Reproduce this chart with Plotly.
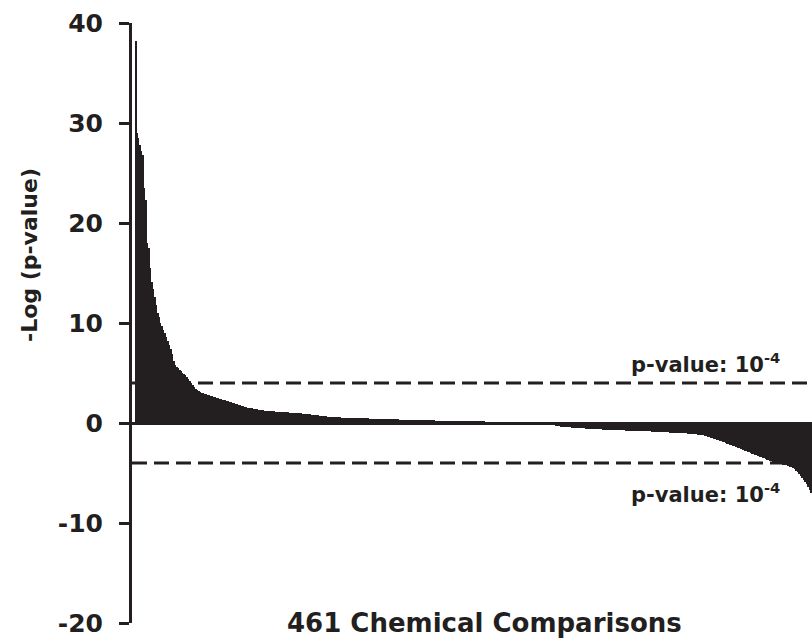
import plotly.graph_objects as go

# -Log(p-value) for 461 chemical comparisons, sorted descending
seg_a = [38.2, 29.0, 28.5, 27.8, 27.2, 26.8, 23.5, 22.3, 18.0, 17.5,
         15.5, 14.1, 13.4, 12.6, 11.8, 11.0, 10.6, 10.0, 9.7, 9.3,
         9.0, 8.6, 8.2, 7.8, 7.4, 6.9, 6.2, 5.8, 5.6, 5.5,
         5.3, 5.2, 5.0, 4.9, 4.8, 4.6, 4.4, 4.2, 4.0, 3.8,
         3.6, 3.4, 3.3, 3.2, 3.1, 3.05, 3.0]
seg_b = [2.95, 2.9, 2.85, 2.8, 2.75, 2.7, 2.65, 2.6, 2.55, 2.5,
         2.45, 2.4, 2.35, 2.3, 2.3, 2.25, 2.2, 2.15, 2.1, 2.05,
         2.0, 1.95, 1.9, 1.85, 1.8, 1.75, 1.7, 1.65, 1.6, 1.55,
         1.52, 1.5, 1.48, 1.45, 1.42, 1.4, 1.37, 1.35, 1.32, 1.3,
         1.27, 1.25, 1.22, 1.2, 1.19, 1.18, 1.17, 1.16, 1.15, 1.14,
         1.13, 1.12, 1.11, 1.1, 1.09, 1.08, 1.07, 1.06, 1.05, 1.04,
         1.03, 1.02, 1.01, 1.0, 1.0]
seg_c = [0.98, 0.96, 0.95, 0.93, 0.91, 0.9, 0.88, 0.86, 0.84, 0.82,
         0.8, 0.78, 0.76, 0.74, 0.72, 0.7, 0.69, 0.67, 0.66, 0.64,
         0.63, 0.62, 0.61, 0.6, 0.59, 0.58, 0.57, 0.56, 0.55, 0.54,
         0.53, 0.52, 0.51, 0.5]
seg_d = [0.5, 0.5, 0.49, 0.49, 0.49, 0.48, 0.48, 0.48, 0.47, 0.47,
         0.47, 0.46, 0.46, 0.45, 0.45, 0.45, 0.44, 0.44, 0.43, 0.43,
         0.42, 0.42, 0.41, 0.41, 0.4, 0.4, 0.39, 0.39, 0.38, 0.38,
         0.37, 0.37, 0.36, 0.36, 0.35, 0.35, 0.34, 0.34, 0.33, 0.33,
         0.33, 0.32, 0.32, 0.32, 0.31, 0.31, 0.31, 0.3, 0.3, 0.3]
seg_e = [0.29, 0.29, 0.28, 0.28, 0.27, 0.27, 0.26, 0.26, 0.25, 0.25,
         0.24, 0.24, 0.23, 0.23, 0.22, 0.22, 0.21, 0.21, 0.2, 0.2,
         0.19, 0.19, 0.18, 0.18, 0.18, 0.17, 0.17, 0.16, 0.16, 0.15,
         0.15, 0.15, 0.14, 0.14, 0.13, 0.13, 0.13, 0.12, 0.12, 0.11,
         0.11, 0.11, 0.1, 0.1, 0.09, 0.09, 0.09, 0.08, 0.08, 0.07,
         0.07, 0.07, 0.06, 0.06, 0.05, 0.05, 0.05, 0.04, 0.04, 0.04,
         0.03, 0.03, 0.03, 0.02, 0.02, 0.02, 0.01]
seg_f = [0.01, 0.01, 0.0, 0.0, -0.01, -0.01, -0.02, -0.03, -0.04, -0.05,
         -0.06, -0.07, -0.08, -0.09, -0.1, -0.11, -0.12, -0.14, -0.16, -0.18,
         -0.2, -0.22, -0.24, -0.26, -0.28, -0.3, -0.32, -0.35]
seg_g = [-0.38, -0.4, -0.41, -0.42, -0.43, -0.44, -0.45, -0.46, -0.47, -0.48,
         -0.49, -0.5, -0.51, -0.52, -0.53, -0.54, -0.55, -0.56, -0.57, -0.58,
         -0.59, -0.6, -0.61, -0.62, -0.63, -0.64, -0.64, -0.65, -0.66, -0.66,
         -0.67, -0.68, -0.69, -0.7]
seg_h = [-0.7, -0.71, -0.71, -0.72, -0.72, -0.73, -0.73, -0.74, -0.74, -0.75,
         -0.75, -0.76, -0.76, -0.77, -0.77, -0.78, -0.78, -0.79, -0.79, -0.8,
         -0.8, -0.81, -0.82, -0.82, -0.83, -0.84, -0.84, -0.85, -0.86, -0.86,
         -0.87, -0.88, -0.89, -0.9, -0.9, -0.91, -0.92, -0.93, -0.94, -0.95,
         -0.95, -0.96, -0.97, -0.98, -0.98, -0.99, -1.0, -1.0]
seg_i = [-1.01, -1.02, -1.03, -1.05, -1.06, -1.08, -1.09, -1.1, -1.12, -1.13,
         -1.15, -1.16, -1.18, -1.2]
seg_j = [-1.22, -1.26, -1.3, -1.35, -1.4, -1.45, -1.5, -1.55, -1.6, -1.65,
         -1.7, -1.76, -1.82, -1.88, -1.94, -2.0]
seg_k = [-2.05, -2.1, -2.16, -2.22, -2.28, -2.34, -2.4, -2.46, -2.52, -2.58,
         -2.64, -2.7, -2.76, -2.82, -2.88, -2.94, -3.0, -3.06, -3.12, -3.18,
         -3.24, -3.3, -3.36]
seg_l = [-3.42, -3.48, -3.54, -3.6, -3.66, -3.72, -3.78, -3.84, -3.9, -3.95, -4.0]
seg_m = [-4.02, -4.05, -4.08, -4.12, -4.16, -4.2, -4.24, -4.28, -4.32, -4.36, -4.4]
seg_n = [-4.45, -4.6, -4.8, -4.9, -5.1, -5.3, -5.5, -5.7, -5.9, -6.1, -6.4, -6.7, -7.0]

neg_log_p = (seg_a + seg_b + seg_c + seg_d + seg_e + seg_f + seg_g + seg_h +
             seg_i + seg_j + seg_k + seg_l + seg_m + seg_n)
comparison_index = list(range(len(neg_log_p)))

y_ticks = [-20, -10, 0, 10, 20, 30, 40]
y_tick_text = ["-20", "-10", "0", "10", "20", "30", "40"]
threshold = 4  # -log10(1e-4)

x_title = "%d Chemical Comparisons" % len(neg_log_p)
y_title = "-Log (p-value)"
thr_label = "p-value: 10<sup>-4</sup>"

INK = "#231f20"
FONT = "DejaVu Sans, sans-serif"

fig = go.Figure()
fig.add_trace(go.Bar(
    x=comparison_index, y=neg_log_p,
    marker=dict(color=INK, line=dict(width=0)),
    width=1.0,
    hoverinfo="y",
))

for yv in (threshold, -threshold):
    fig.add_shape(type="line", xref="paper", yref="y", x0=0, x1=1, y0=yv, y1=yv,
                  line=dict(color=INK, width=3, dash="15px,7px"))

fig.add_annotation(text=thr_label, xref="paper", yref="y", x=0.956, y=6.0,
                   xanchor="right", yanchor="middle", showarrow=False,
                   font=dict(family=FONT, size=21, color=INK, weight="bold"))
fig.add_annotation(text=thr_label, xref="paper", yref="y", x=0.956, y=-7.0,
                   xanchor="right", yanchor="middle", showarrow=False,
                   font=dict(family=FONT, size=21, color=INK, weight="bold"))
fig.add_annotation(text=y_title, xref="paper", yref="y", x=-0.1515, y=16.8,
                   xanchor="center", yanchor="middle", textangle=-90, showarrow=False,
                   font=dict(family=FONT, size=22, color=INK, weight="bold"))
fig.add_annotation(text=x_title, xref="paper", yref="paper", x=0.519, y=-0.0,
                   xanchor="center", yanchor="middle", showarrow=False,
                   font=dict(family=FONT, size=26, color=INK, weight="bold"))

fig.update_layout(
    width=812, height=641,
    margin=dict(l=132, r=0, t=23, b=18, autoexpand=False),
    paper_bgcolor="white", plot_bgcolor="white",
    bargap=0, showlegend=False,
    xaxis=dict(range=[-2.54, 460.5], showticklabels=False, showgrid=False,
               zeroline=False, showline=False, ticks="", automargin=False),
    yaxis=dict(range=[-20, 40], tickvals=y_ticks, ticktext=y_tick_text,
               showgrid=False, automargin=False,
               zeroline=True, zerolinecolor=INK, zerolinewidth=3,
               showline=True, linecolor=INK, linewidth=3,
               ticks="outside", ticklen=10, tickwidth=3, tickcolor=INK,
               ticklabelstandoff=11,
               tickfont=dict(family=FONT, size=25, color=INK, weight="bold")),
)

fig.write_html(
    "out.html",
    config={"displayModeBar": False},
    post_script="document.body.style.margin='0px';document.body.style.overflow='hidden';",
)
